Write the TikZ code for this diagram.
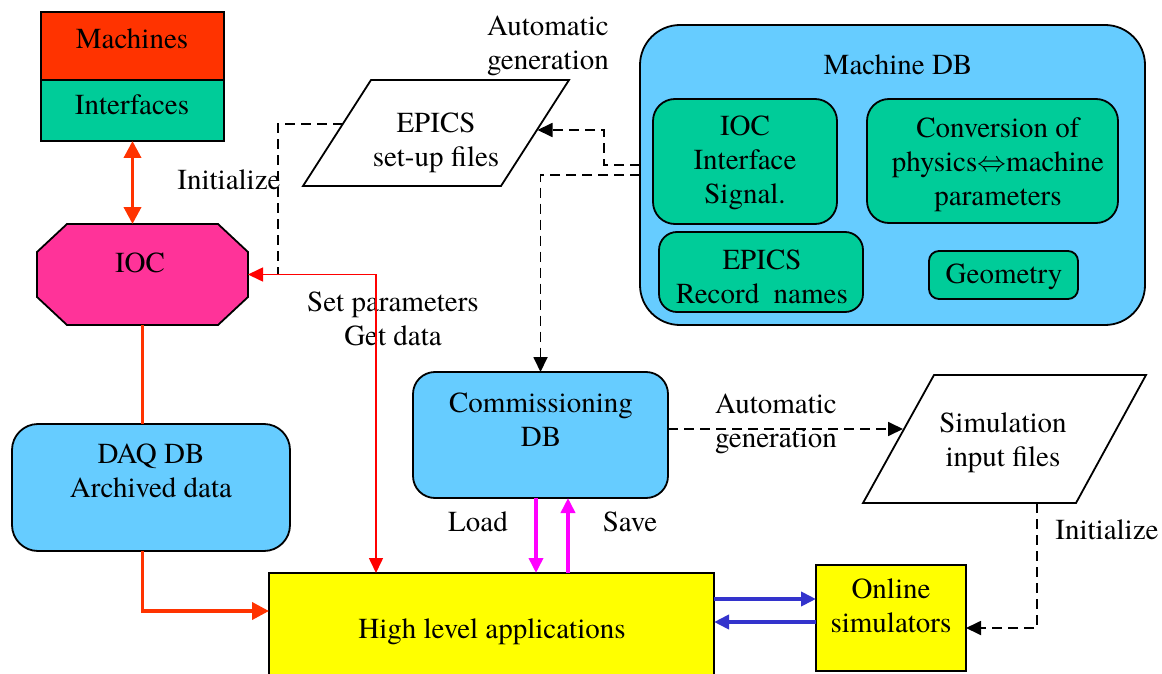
\documentclass[tikz,border=0pt]{standalone}
\usepackage{fontspec}
\IfFontExistsTF{texgyretermes-regular.otf}{\setmainfont{texgyretermes-regular.otf}}{\setmainfont{Liberation Serif}}
\usetikzlibrary{arrows.meta,calc}
\definecolor{cRed}{HTML}{FF3300}
\definecolor{cGreen}{HTML}{00CC99}
\definecolor{cPink}{HTML}{FF3399}
\definecolor{cBlue}{HTML}{66CCFF}
\definecolor{cYellow}{HTML}{FFFF00}
\definecolor{cNavy}{HTML}{3333CC}
\definecolor{cMag}{HTML}{FF00FF}
\definecolor{cLine}{HTML}{FF0000}
\tikzset{
  rtip/.tip={Triangle[length=8.5pt,width=8.5pt]},
  stip/.tip={Triangle[length=7.5pt,width=7pt]},
  btip/.tip={Triangle[length=7.5pt,width=7pt]}
}
\begin{document}
\begin{tikzpicture}[x=0.5pt,y=-0.5pt,
  every node/.style={font=\fontsize{14.5}{17}\selectfont},
  box/.style={draw=black, line width=0.9pt, inner sep=0pt, outer sep=0pt},
  ghost/.style={inner sep=0pt, outer sep=0pt},
  txt/.style={align=center, inner sep=0pt},
  thickarrow/.style={draw=cRed, line width=1.9pt},
  thinred/.style={draw=cLine, line width=0.8pt},
  dashline/.style={draw=black, line width=0.9pt, dash pattern=on 5pt off 3pt},
  magline/.style={draw=cMag, line width=1.8pt},
  navyline/.style={draw=cNavy, line width=1.9pt}
]
\useasboundingbox (0,0) rectangle (1162,674);

% ---- boxes ----
\node[box, fill=cRed, minimum width=91.5pt, minimum height=34pt] (mach) at (132.5,46) {};
\node[box, fill=cGreen, minimum width=91.5pt, minimum height=30.5pt] (inter) at (132.5,110.5) {};

\node[ghost, minimum width=105.5pt, minimum height=50.5pt] (ioc) at (142.5,274.5) {};
\draw[fill=cPink, line width=0.9pt] (37,252) -- (67,224) -- (218,224) -- (248,252) -- (248,297) -- (218,325) -- (67,325) -- (37,297) -- cycle;

\node[box, fill=cBlue, rounded corners=13pt, minimum width=139pt, minimum height=63.5pt] (daq) at (151,487.5) {};
\node[box, fill=cYellow, minimum width=222.5pt, minimum height=51.5pt] (hla) at (491.5,624.5) {};

\node[box, fill=cBlue, rounded corners=20pt, minimum width=252.5pt, minimum height=150pt] (mdb) at (892.5,175) {};
\node[box, fill=cGreen, rounded corners=11pt, minimum width=92pt, minimum height=62.5pt] (iocif) at (745,161.5) {};
\node[box, fill=cGreen, rounded corners=11pt, minimum width=125.5pt, minimum height=62pt] (conv) at (992.5,161) {};
\node[box, fill=cGreen, rounded corners=9pt, minimum width=102pt, minimum height=40pt] (rec) at (761,272) {};
\node[box, fill=cGreen, rounded corners=5pt, minimum width=74.5pt, minimum height=24pt] (geom) at (1003.5,275) {};

\node[box, fill=cBlue, rounded corners=11pt, minimum width=127.5pt, minimum height=63pt] (cdb) at (540.5,435) {};
\node[box, fill=cYellow, minimum width=75pt, minimum height=53pt] (osim) at (891,618) {};

% parallelograms
\draw[fill=white, line width=0.9pt] (303,186) -- (501,186) -- (569,80) -- (371,80) -- cycle;
\draw[fill=white, line width=0.9pt] (863,503) -- (1076,503) -- (1146,375) -- (934,375) -- cycle;
\coordinate (epL) at (342.8,124);
\coordinate (epR) at (537.5,130);
\coordinate (simL) at (903,429);
\coordinate (simB) at (1037,503);
\coordinate (join) at (278,274.5);

% ---- texts ----
\node[txt] (tmach) at (132,39) {Machines};
\node[txt] (tinter) at (132,105) {Interfaces};
\node[txt] (tioc) at (140,263) {IOC};
\node[txt] (tinit1) at (229,180) {Initialize};
\node[txt] (tauto1) at (548,46) {Automatic\\generation};
\node[txt] (tepics) at (436,143) {EPICS\\set-up files};
\node[txt] (tmdb) at (898,65) {Machine DB};
\node[txt] (tiocif) at (745,163) {IOC\\Interface\\Signal.};
\node[txt] (tconv) at (998,165) {Conversion of\\physics$\Leftrightarrow$machine\\parameters};
\node[txt] (trec) at (762,277) {EPICS\\Record\ \ names};
\node[txt] (tgeom) at (1004,277) {Geometry};
\node[txt] (tset) at (393,319) {Set parameters\\Get data};
\node[txt] (tdaq) at (151,471) {DAQ DB\\Archived data};
\node[txt] (tcdb) at (541,420) {Commissioning\\DB};
\node[txt] (tauto2) at (776,424) {Automatic\\generation};
\node[txt] (tsim) at (1003,443) {Simulation\\input files};
\node[txt] (tload) at (478,522) {Load};
\node[txt] (tsave) at (630,522) {Save};
\node[txt] (tinit2) at (1107,530) {Initialize};
\node[txt] (thla) at (492,632) {High level applications};
\node[txt] (tosim) at (891,606) {Online\\simulators};

% ---- connectors ----
\draw[thickarrow, rtip-rtip] (inter.south) -- (inter.south |- ioc.north);
\draw[thickarrow] (ioc.south) -- (ioc.south |- daq.north);
\draw[thickarrow, -rtip] (daq.south -| ioc.south) |- ($(hla.west)+(0,-13.5)$);

\draw[dashline] (epL) -| (join);
\draw[thinred, stip-stip] (ioc.east) -| ($(hla.north)+(-115.5,0)$);

\draw[dashline, -btip] ($(mdb.west)+(0,-10)$) -| ($(epR)+(66.5,0)$) -- (epR);
\draw[dashline, -btip] (mdb.west) -| (cdb.north);
\draw[dashline, -btip] ($(cdb.east)+(0,-6)$) -- (simL);
\draw[dashline, -btip] (simB) |- ($(osim.east)+(0,10)$);

\draw[magline, -btip] ($(cdb.south)+(-4.5,0)$) -- ($(hla.north)+(44.5,0)$);
\draw[magline, -btip] ($(hla.north)+(76.5,0)$) -- ($(cdb.south)+(27.5,0)$);

\draw[navyline, -btip] ($(hla.east)+(0,-25.5)$) -- ($(osim.west)+(0,-19)$);
\draw[navyline, -btip] ($(osim.west)+(0,4)$) -- ($(hla.east)+(0,-2.5)$);
\end{tikzpicture}
\end{document}
